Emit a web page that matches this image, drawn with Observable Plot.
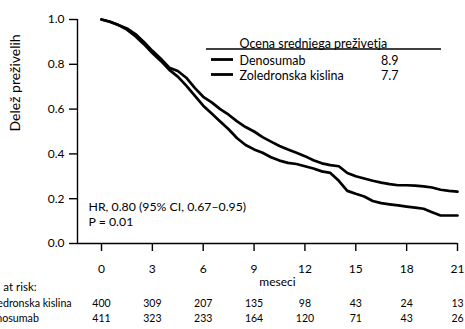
<!DOCTYPE html>
<html>
<head>
<meta charset="utf-8">
<script src="https://cdn.jsdelivr.net/npm/d3@7"></script>
<script src="https://cdn.jsdelivr.net/npm/@observablehq/plot@0.6"></script>
<style>
  html, body { margin: 0; padding: 0; background: #fff; }
  #chart { width: 465px; height: 329px; overflow: hidden; }
  svg { overflow: hidden; }
</style>
</head>
<body>
<div id="chart"></div>
<script>
// ---- data ----
const months = [0,0.5,1,1.5,2,2.5,3,3.5,4,4.5,5,5.5,6,6.5,7,7.5,8,8.5,9,9.5,10,10.5,11,11.5,12,12.5,13,13.5,14,14.5,15,15.5,16,16.5,17,17.5,18,18.5,19,19.5,20,20.5,21];
const denosumab = [1.0,0.99,0.975,0.96,0.935,0.90,0.86,0.825,0.785,0.77,0.74,0.695,0.655,0.63,0.60,0.575,0.545,0.52,0.50,0.475,0.455,0.435,0.42,0.405,0.39,0.372,0.358,0.35,0.345,0.315,0.30,0.29,0.28,0.272,0.265,0.26,0.26,0.258,0.255,0.25,0.24,0.235,0.232];
const zoledronska = [1.0,0.99,0.975,0.955,0.925,0.89,0.85,0.815,0.775,0.745,0.705,0.66,0.615,0.58,0.545,0.51,0.47,0.44,0.42,0.405,0.385,0.37,0.36,0.355,0.345,0.335,0.322,0.315,0.28,0.235,0.222,0.21,0.19,0.18,0.175,0.17,0.165,0.16,0.155,0.14,0.125,0.125,0.125];
const xTicks = [0,3,6,9,12,15,18,21];
const yTicks = [0,0.2,0.4,0.6,0.8,1.0];
const riskZoledronska = [400,309,207,135,98,43,24,13];
const riskDenosumab = [411,323,233,164,120,71,43,26];
const seriesNames = ["Denosumab","Zoledronska kislina"];
const medians = ["8.9","7.7"];
const legendTitle = "Ocena srednjega preživetja";
const hrText = ["HR, 0.80 (95% CI, 0.67–0.95)", "P = 0.01"];
const riskHeader = "No. at risk:";
const xLabel = "meseci";
const yLabel = "Delež preživelih";

// ---- build tables ----
const curves = [];
months.forEach((t,i) => {
  curves.push({arm: seriesNames[0], t, s: denosumab[i]});
  curves.push({arm: seriesNames[1], t, s: zoledronska[i]});
});
const riskRow1 = xTicks.map((t,i) => ({t, n: riskZoledronska[i]}));
const riskRow2 = xTicks.map((t,i) => ({t, n: riskDenosumab[i]}));

const font = "Lato, 'Open Sans', sans-serif";

const chart = Plot.plot({
  width: 465,
  height: 329,
  marginLeft: 77,
  marginRight: 8,
  marginTop: 19,
  marginBottom: 86,
  style: {fontFamily: font, fontSize: "12px", color: "#000", background: "#fff"},
  x: {domain: [0,21], insetLeft: 24},
  y: {domain: [0,1]},
  marks: [
    Plot.ruleY([0], {strokeWidth: 1.4}),
    Plot.ruleX([0], {dx: -24, strokeWidth: 1.4}),
    Plot.axisY({ticks: yTicks, tickSize: 8, tickPadding: 5, tickFormat: d3.format(".1f"), label: null, fontSize: 12, strokeWidth: 1.4}),
    Plot.axisX({ticks: xTicks, tickSize: 8, tickPadding: 13, label: null, fontSize: 12, strokeWidth: 1.4}),
    Plot.line(curves, {x: "t", y: "s", z: "arm", curve: "linear", stroke: "#000", strokeWidth: 2.7}),
    // axis titles
    Plot.text([yLabel], {frameAnchor: "left", dx: -62, rotate: -90, fontSize: 14}),
    Plot.text([xLabel], {frameAnchor: "bottom", dx: 10, dy: 42, fontSize: 12}),
    // HR annotation
    Plot.text([hrText[0]], {frameAnchor: "bottom-left", textAnchor: "start", dx: 11, dy: -33, fontSize: 12.3}),
    Plot.text([hrText[1]], {frameAnchor: "bottom-left", textAnchor: "start", dx: 11, dy: -18, fontSize: 12.3}),
    // legend texts
    Plot.text([legendTitle], {frameAnchor: "top-left", textAnchor: "start", dx: 162, dy: 20, fontSize: 12.5}),
    Plot.text([seriesNames[0]], {frameAnchor: "top-left", textAnchor: "start", dx: 162, dy: 37, fontSize: 12.5}),
    Plot.text([seriesNames[1]], {frameAnchor: "top-left", textAnchor: "start", dx: 162, dy: 52, fontSize: 12.5}),
    Plot.text([medians[0]], {frameAnchor: "top-left", textAnchor: "end", dx: 321, dy: 37, fontSize: 12.5}),
    Plot.text([medians[1]], {frameAnchor: "top-left", textAnchor: "end", dx: 321, dy: 52, fontSize: 12.5}),
    // number at risk table
    Plot.text([riskHeader], {frameAnchor: "bottom-left", textAnchor: "start", dx: -95, dy: 47, fontSize: 11.5}),
    Plot.text([seriesNames[1]], {frameAnchor: "bottom-left", textAnchor: "start", dx: -95, dy: 63, fontSize: 10.7}),
    Plot.text([seriesNames[0]], {frameAnchor: "bottom-left", textAnchor: "start", dx: -95, dy: 78, fontSize: 10.7}),
    Plot.text(riskRow1, {x: "t", text: "n", frameAnchor: "bottom", dy: 63, fontSize: 10.5}),
    Plot.text(riskRow2, {x: "t", text: "n", frameAnchor: "bottom", dy: 78, fontSize: 10.5})
  ]
});

document.getElementById("chart").appendChild(chart);

// legend rule and line swatches
const svg = d3.select(chart);
const lg = svg.append("g").attr("stroke", "#000");
lg.append("line").attr("x1", 206).attr("x2", 441).attr("y1", 49).attr("y2", 49).attr("stroke-width", 1.6);
seriesNames.forEach((name,i) => {
  const y = 59.5 + i*15;
  lg.append("line").attr("x1", 211).attr("x2", 233).attr("y1", y).attr("y2", y).attr("stroke-width", 2.8);
});
</script>
</body>
</html>
